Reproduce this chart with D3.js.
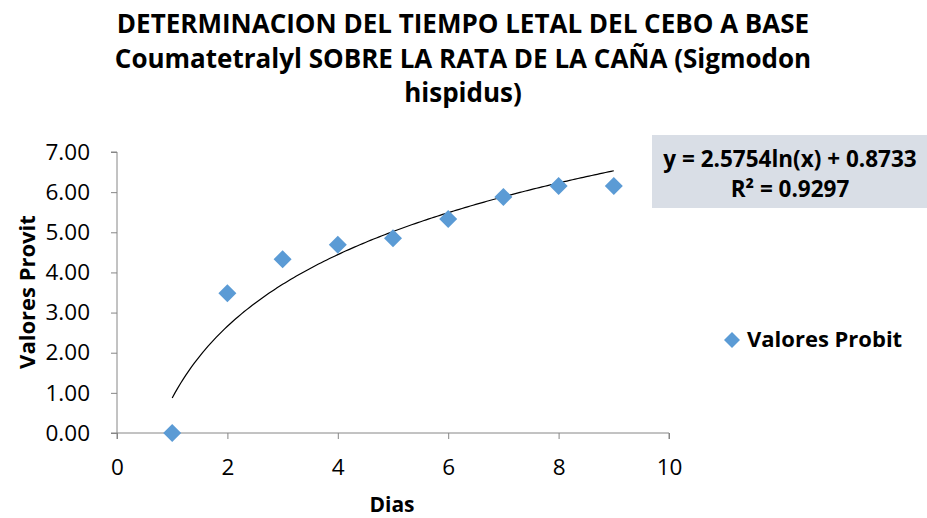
<!DOCTYPE html>
<html lang="es">
<head>
<meta charset="UTF-8">
<title>Tiempo letal Coumatetralyl</title>
<script src="https://d3js.org/d3.v7.min.js"></script>
<style>
  body { margin: 0; background: #fff; }
  svg { display: block; font-family: "Open Sans", "Noto Sans", sans-serif; }
</style>
</head>
<body>
<svg id="chart" width="927" height="518"></svg>
<script>
// Datos
const dias = [1, 2, 3, 4, 5, 6, 7, 8, 9];
const probit = [0, 3.48, 4.33, 4.69, 4.85, 5.33, 5.88, 6.15, 6.15];
const xTicks = [0, 2, 4, 6, 8, 10];
const yTicks = [0, 1, 2, 3, 4, 5, 6, 7];
const titleLines = [
  "DETERMINACION DEL TIEMPO LETAL DEL CEBO A BASE",
  "Coumatetralyl SOBRE LA RATA DE LA CAÑA (Sigmodon",
  "hispidus)"
];
const trendA = 2.5754, trendB = 0.8733, r2 = 0.9297;

const svg = d3.select("#chart");
const x = d3.scaleLinear().domain([0, 10]).range([117, 669]);
const y = d3.scaleLinear().domain([0, 7]).range([433, 152]);
const axisColor = "#868686";

// titulo
svg.append("g").selectAll("text")
  .data(titleLines)
  .enter().append("text")
  .attr("x", 463)
  .attr("y", (d, i) => 33 + i * 34.5)
  .attr("text-anchor", "middle")
  .attr("font-size", 26)
  .attr("font-weight", "bold")
  .text(d => d);

// ejes
const gx = svg.append("g").attr("transform", `translate(0,${y(0)})`)
  .call(d3.axisBottom(x).tickValues(xTicks).tickSize(6).tickPadding(20).tickFormat(d3.format("d")));
const gy = svg.append("g").attr("transform", `translate(${x(0)},0)`)
  .call(d3.axisLeft(y).tickValues(yTicks).tickSize(6).tickPadding(21).tickFormat(d3.format(".2f")));
[gx, gy].forEach(g => {
  g.selectAll("path, line").attr("stroke", axisColor);
  g.selectAll("text").attr("font-size", 22.5).attr("fill", "#000")
    .attr("font-family", "'Open Sans', sans-serif");
});
gx.select(".domain").attr("d", `M${x(0)},6V0H${x(10)}V6`);
gy.select(".domain").attr("d", `M-6,${y(7)}H0V${y(0)}H-6`);

// titulos de ejes
svg.append("text").attr("x", 392).attr("y", 512)
  .attr("text-anchor", "middle").attr("font-size", 21).attr("font-weight", "bold")
  .text("Dias");
svg.append("text").attr("transform", `translate(35,292) rotate(-90)`)
  .attr("text-anchor", "middle").attr("font-size", 22).attr("font-weight", "bold")
  .text("Valores Provit");

// linea de tendencia logaritmica
const trend = d3.range(1, 9.001, 0.05).map(d => [d, trendA * Math.log(d) + trendB]);
svg.append("path")
  .datum(trend)
  .attr("fill", "none")
  .attr("stroke", "#000")
  .attr("stroke-width", 1.2)
  .attr("d", d3.line().x(d => x(d[0])).y(d => y(d[1])));

// puntos
const diamond = "M0,-9L9,0L0,9L-9,0Z";
svg.append("g").selectAll("path")
  .data(dias.map((d, i) => [d, probit[i]]))
  .enter().append("path")
  .attr("d", diamond)
  .attr("fill", "#5b9bd5")
  .attr("transform", d => `translate(${x(d[0])},${y(d[1])})`);

// cuadro de la ecuacion
svg.append("rect").attr("x", 652).attr("y", 135).attr("width", 275).attr("height", 73)
  .attr("fill", "#d9dee6");
svg.append("text").attr("x", 790).attr("y", 167)
  .attr("text-anchor", "middle").attr("font-size", 22.5).attr("font-weight", "bold")
  .text(`y = ${trendA}ln(x) + ${trendB}`);
svg.append("text").attr("x", 790).attr("y", 197)
  .attr("text-anchor", "middle").attr("font-size", 22.5).attr("font-weight", "bold")
  .text(`R² = ${r2}`);

// leyenda
svg.append("path").attr("d", "M0,-8L8,0L0,8L-8,0Z").attr("fill", "#5b9bd5")
  .attr("transform", "translate(732,340)");
svg.append("text").attr("x", 747).attr("y", 347)
  .attr("font-size", 22).attr("font-weight", "bold")
  .text("Valores Probit");
</script>
</body>
</html>
